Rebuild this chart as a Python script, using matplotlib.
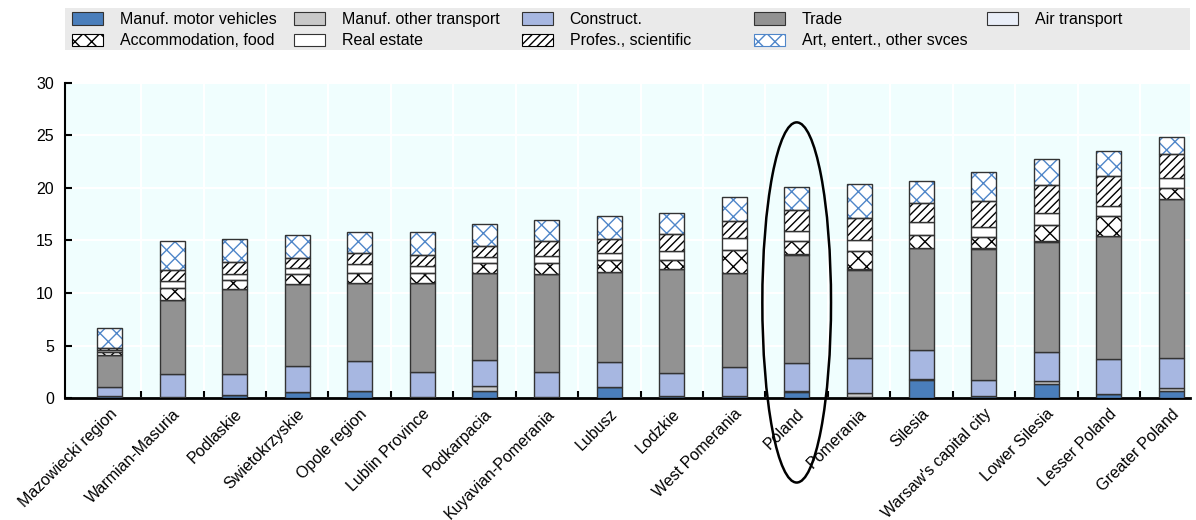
import matplotlib
matplotlib.use("Agg")
import matplotlib.pyplot as plt
from matplotlib.patches import Ellipse, Patch, Rectangle
import numpy as np

plt.rcParams['font.family'] = ['Liberation Sans', 'DejaVu Sans']
plt.rcParams['hatch.linewidth'] = 1.0

regions = ["Mazowiecki region", "Warmian-Masuria", "Podlaskie", "Swietokrzyskie",
           "Opole region", "Lublin Province", "Podkarpacia", "Kuyavian-Pomerania",
           "Lubusz", "Lodzkie", "West Pomerania", "Poland", "Pomerania", "Silesia",
           "Warsaw's capital city", "Lower Silesia", "Lesser Poland", "Greater Poland"]

# employment shares by sector (stacked, bottom to top)
motor = [0.2, 0.1, 0.25, 0.6, 0.7, 0.1, 0.67, 0.1, 1.08, 0.2, 0.2, 0.6, 0.1, 1.75, 0.15, 1.3, 0.35, 0.7]
other_transport = [0.0, 0.0, 0.0, 0.0, 0.0, 0.0, 0.5, 0.0, 0.0, 0.0, 0.0, 0.1, 0.35, 0.1, 0.0, 0.3, 0.0, 0.28]
construct = [0.85, 2.2, 2.05, 2.45, 2.82, 2.4, 2.45, 2.4, 2.32, 2.15, 2.78, 2.6, 3.33, 2.75, 1.56, 2.79, 3.4, 2.86]
trade = [3.0, 7.0, 8.05, 7.85, 7.4, 8.5, 8.25, 9.28, 8.63, 9.94, 8.96, 10.32, 8.41, 9.68, 12.45, 10.48, 11.65, 15.08]
air = [0.0, 0.0, 0.0, 0.0, 0.0, 0.0, 0.0, 0.0, 0.0, 0.0, 0.0, 0.05, 0.05, 0.0, 0.1, 0.05, 0.05, 0.0]
accommodation = [0.3, 1.2, 0.9, 0.95, 1.0, 0.87, 0.95, 1.05, 1.11, 0.85, 2.16, 1.27, 1.75, 1.21, 1.05, 1.59, 1.9, 1.11]
real_estate = [0.2, 0.63, 0.57, 0.55, 0.8, 0.7, 0.57, 0.7, 0.64, 0.86, 1.11, 0.95, 1.04, 1.24, 0.95, 1.11, 0.89, 0.89]
profes = [0.25, 1.1, 1.1, 0.95, 1.1, 1.05, 1.08, 1.43, 1.32, 1.62, 1.65, 2.0, 2.13, 1.84, 2.54, 2.7, 2.92, 2.32]
art = [1.9, 2.7, 2.2, 2.15, 2.0, 2.2, 2.1, 2.0, 2.23, 1.97, 2.31, 2.19, 3.18, 2.06, 2.7, 2.44, 2.41, 1.59]

series = [
    ("Manuf. motor vehicles", motor, "#4A7EBB", None, None),
    ("Manuf. other transport", other_transport, "#C8C8C8", None, None),
    ("Construct.", construct, "#A7B7E1", None, None),
    ("Trade", trade, "#929292", None, None),
    ("Air transport", air, "#E9EEF8", None, None),
    ("Accommodation, food", accommodation, "white", "xx", "black"),
    ("Real estate", real_estate, "white", None, None),
    ("Profes., scientific", profes, "white", "////", "black"),
    ("Art, entert., other svces", art, "white", "xx", "#4F86C9"),
]

fig = plt.figure(figsize=(11.96, 5.2), dpi=100)
ax = fig.add_axes([0.0543, 0.2346, 0.9407, 0.6058])
ax.set_facecolor("#F0FEFE")

x = np.arange(len(regions))
width = 0.4
edge = "#333333"
bottom = np.zeros(len(regions))
handles = {}
for name, vals, color, hatch, hcolor in series:
    vals = np.array(vals)
    if hatch:
        ax.bar(x, vals, width, bottom=bottom, color=color, edgecolor=hcolor,
               hatch=hatch, linewidth=0, zorder=3)
        ax.bar(x, vals, width, bottom=bottom, fill=False, edgecolor=edge,
               linewidth=1.0, zorder=4)
    else:
        ax.bar(x, vals, width, bottom=bottom, color=color, edgecolor=edge,
               linewidth=1.0, zorder=3)
    bottom += vals
    handles[name] = Patch(facecolor=color, edgecolor=hcolor if hatch else edge,
                          hatch=hatch, linewidth=0.8)

ax.set_xlim(-0.72, 17.3)
ax.set_ylim(0, 30)
ax.set_yticks([0, 5, 10, 15, 20, 25, 30])
ax.set_xticks(x)
ax.set_xticklabels(regions, rotation=45, ha="right", rotation_mode="anchor", fontsize=11.5)
ax.set_xticks(x[:-1] + 0.5, minor=True)
ax.tick_params(axis="x", which="major", length=0, pad=6)
ax.tick_params(axis="x", which="minor", direction="in", length=5, width=1.5)
ax.tick_params(axis="y", direction="in", length=5, width=1.5, labelsize=11.5, pad=8)

ax.grid(axis="y", color="white", linewidth=1.5, zorder=0)
ax.grid(axis="x", which="minor", color="white", linewidth=1.5, zorder=0)
for s in ["top", "right"]:
    ax.spines[s].set_visible(False)
ax.spines["bottom"].set_linewidth(2)
ax.spines["left"].set_linewidth(1.5)

# highlight Poland
ell = Ellipse((11, 9.1), 1.1, 34.3, fill=False, edgecolor="black", linewidth=1.8,
              clip_on=False, zorder=6)
ax.add_patch(ell)

# legend band
fig.patches.append(Rectangle((0.0543, 0.903), 0.9407, 0.082, transform=fig.transFigure,
                             facecolor="#EAEAEA", edgecolor="none", zorder=0))
columns = [["Manuf. motor vehicles", "Accommodation, food"],
           ["Manuf. other transport", "Real estate"],
           ["Construct.", "Profes., scientific"],
           ["Trade", "Art, entert., other svces"],
           ["Air transport"]]
col_x = [70, 292, 520, 752, 985]
for cx, names in zip(col_x, columns):
    leg = fig.legend([handles[n] for n in names], names, loc="upper left",
                     bbox_to_anchor=(cx / 1196, 1 - 10 / 520), frameon=False,
                     fontsize=11.5, handlelength=1.9, handleheight=0.85,
                     labelspacing=0.38, handletextpad=1.05, borderpad=0.15,
                     borderaxespad=0)

fig.savefig("out.png", dpi=100)
